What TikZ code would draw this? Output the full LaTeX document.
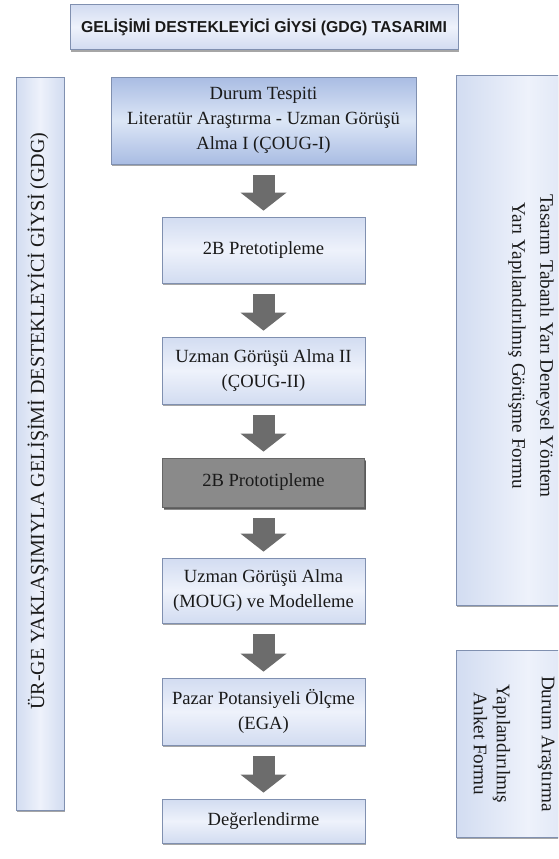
\documentclass[tikz,border=0pt]{standalone}
\usepackage{fontspec}
\setmainfont{Liberation Serif}
\newfontfamily\titlefont{Liberation Sans}
\usetikzlibrary{shadows,arrows.meta}
\definecolor{txt}{HTML}{1A1A1A}
\definecolor{edgeblue}{HTML}{8090B0}
\definecolor{lightedge}{HTML}{D2DCF1}
\definecolor{lightmid}{HTML}{EEF2FB}
\definecolor{deepedge}{HTML}{A9BCE3}
\definecolor{deepmid}{HTML}{DCE6F6}
\definecolor{darkbox}{HTML}{8A8A8A}
\definecolor{arrowgray}{HTML}{6C6C6C}
\begin{document}
\begin{tikzpicture}[x=1pt,y=-1pt,
  boxshadow/.style={drop shadow={shadow xshift=1.2pt,shadow yshift=-2.2pt,opacity=0.35,fill=black}},
  basebox/.style={draw=edgeblue,line width=0.8pt,inner sep=0pt,align=center,text=txt,
    font=\fontsize{18.6}{25}\selectfont,boxshadow},
  lightbox/.style={basebox,top color=lightedge,bottom color=lightedge,middle color=lightmid},
  deepbox/.style={basebox,top color=deepedge,bottom color=deepedge,middle color=deepmid},
  greybox/.style={basebox,draw=gray!80!black,fill=darkbox,
    drop shadow={shadow xshift=1.5pt,shadow yshift=-3pt,opacity=0.45,fill=black}},
  sidebox/.style={draw=edgeblue,line width=0.8pt,inner sep=0pt,
    left color=lightedge,right color=lightedge,middle color=lightmid,boxshadow},
  sidetext/.style={text=txt,align=center,inner sep=0pt},
  flowarrow/.style={draw=arrowgray,line width=22pt,
    -{Triangle[width=46pt,length=18pt,line width=0pt]},
    shorten <=11pt,shorten >=6pt}
]
\useasboundingbox (0,0) rectangle (558,859);
\clip (0,0) rectangle (558,859);
\fill[white] (0,0) rectangle (558,859);

% title
\node[lightbox,minimum width=388pt,minimum height=45pt,
  font=\titlefont\bfseries\fontsize{15.8}{19}\selectfont] (title) at (264,27)
  {GELİŞİMİ DESTEKLEYİCİ GİYSİ (GDG) TASARIMI};

% left tall box
\node[sidebox,minimum width=48pt,minimum height=733pt] (leftbox) at (40,443.5) {};
\node[sidetext,rotate=90,font=\fontsize{20}{24}\selectfont] (lefttxt) at (38,421)
  {ÜR-GE YAKLAŞIMIYLA GELİŞİMİ DESTEKLEYİCİ GİYSİ (GDG)};

% right boxes
\node[sidebox,minimum width=144pt,minimum height=530pt] (rightA) at (528,340) {};
\node[sidetext,rotate=-90,font=\fontsize{19.2}{28}\selectfont] (rightAtxt) at (531,346)
  {Tasarım Tabanlı Yarı Deneysel Yöntem\\Yarı Yapılandırılmış Görüşme Formu};
\node[sidebox,minimum width=144pt,minimum height=187pt] (rightB) at (528,743.5) {};
\node[sidetext,rotate=-90,font=\fontsize{19.2}{23}\selectfont] (rightBtxt) at (514,744)
  {Durum Araştırma\\[22pt]Yapılandırılmış\\Anket Formu};

% flow boxes
\node[deepbox,minimum width=305pt,minimum height=87pt] (b1) at (263.5,120.5)
  {Durum Tespiti\\Literatür Araştırma - Uzman Görüşü\\Alma I (ÇOUG-I)};
\node[lightbox,minimum width=203pt,minimum height=66pt] (b2) at (263.5,250)
  {2B Pretotipleme};
\node[lightbox,minimum width=203pt,minimum height=67pt] (b3) at (263.5,370.5)
  {Uzman Görüşü Alma II\\(ÇOUG-II)};
\node[greybox,minimum width=202pt,minimum height=49pt] (b4) at (263.5,482.5)
  {2B Prototipleme};
\node[lightbox,minimum width=203pt,minimum height=65pt] (b5) at (263.5,590.5)
  {Uzman Görüşü Alma\\(MOUG) ve Modelleme};
\node[lightbox,minimum width=203pt,minimum height=67pt] (b6) at (263.5,711.5)
  {Pazar Potansiyeli Ölçme\\(EGA)};
\node[lightbox,minimum width=203pt,minimum height=44pt] (b7) at (263.5,821)
  {Değerlendirme};

% arrows
\draw[flowarrow] (b1) -- (b2);
\draw[flowarrow] (b2) -- (b3);
\draw[flowarrow] (b3) -- (b4);
\draw[flowarrow] (b4) -- (b5);
\draw[flowarrow] (b5) -- (b6);
\draw[flowarrow] (b6) -- (b7);
\end{tikzpicture}
\end{document}
